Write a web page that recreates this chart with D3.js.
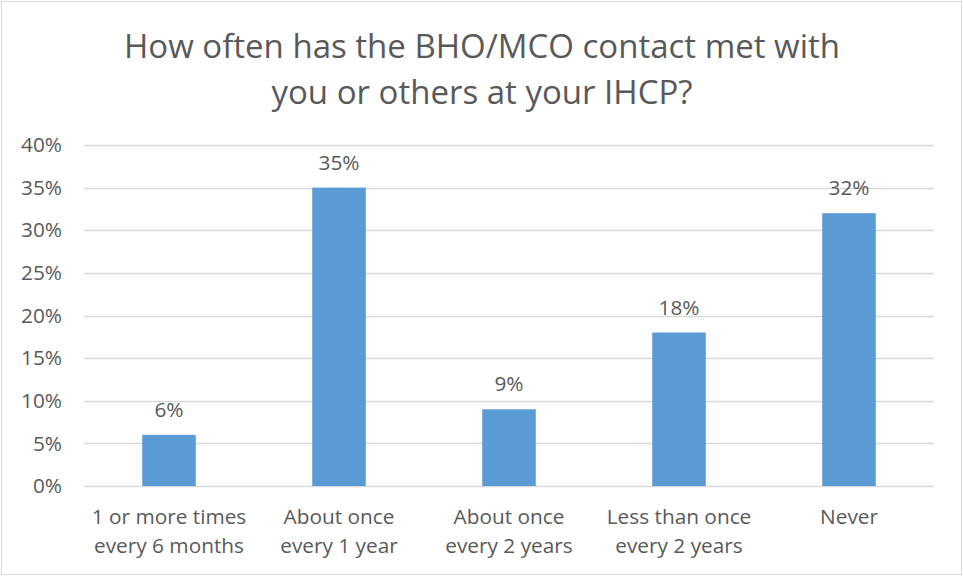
<!DOCTYPE html>
<html><head><meta charset="utf-8">
<script src="https://cdn.jsdelivr.net/npm/d3@7"></script>
<style>body{margin:0;background:#fff}svg{display:block}text{font-family:"Open Sans",Lato,sans-serif;fill:#595959}</style>
</head><body>
<svg id="c" width="963" height="577"></svg>
<script>
const categories = [["1 or more times","every 6 months"],["About once","every 1 year"],["About once","every 2 years"],["Less than once","every 2 years"],["Never"]];
const values = [0.06, 0.35, 0.09, 0.18, 0.32];
const yTicks = [0,0.05,0.10,0.15,0.20,0.25,0.30,0.35,0.40];
const titleLines = ["How often has the BHO/MCO contact met with","you or others at your IHCP?"];

(function(){
const svg = d3.select("#c");
svg.append("rect").attr("x",1.5).attr("y",1.5).attr("width",960).attr("height",573).attr("fill","#fff").attr("stroke","#d9d9d9").attr("stroke-width",1);

const pl=84,pr=934,pt=145,pb=486;
const x = d3.scaleBand().domain(d3.range(values.length)).range([pl,pr]).paddingInner(0.685).paddingOuter(0.3425);
const y = d3.scaleLinear().domain([0,0.40]).range([pb,pt]);
const fs = "20.8px";

const g = svg.append("g");
g.selectAll("line.grid").data(yTicks).join("line")
 .attr("x1",pl).attr("x2",pr).attr("y1",d=>Math.round(y(d))+0.5).attr("y2",d=>Math.round(y(d))+0.5)
 .attr("stroke","#d9d9d9").attr("stroke-width",1.3);

const yAxis = d3.axisLeft(y).tickValues(yTicks).tickFormat(d3.format(".0%")).tickSize(0).tickPadding(22);
const ya = svg.append("g").attr("transform",`translate(${pl},0)`).call(yAxis);
ya.select(".domain").remove();
ya.selectAll("text").style("font-size",fs).attr("fill","#595959").attr("font-family","Open Sans");

g.selectAll("rect.bar").data(values).join("rect")
 .attr("x",(d,i)=>x(i)).attr("width",x.bandwidth())
 .attr("y",d=>y(d)).attr("height",d=>y(0)-y(d)).attr("fill","#5b9bd5");

g.selectAll("text.lbl").data(values).join("text")
 .attr("x",(d,i)=>x(i)+x.bandwidth()/2).attr("y",d=>y(d)-18)
 .attr("text-anchor","middle").style("font-size",fs).text(d=>d3.format(".0%")(d));

const xAxis = d3.axisBottom(x).tickSize(0).tickFormat("");
const xa = svg.append("g").attr("transform",`translate(0,${pb})`).call(xAxis);
xa.select(".domain").remove();
xa.selectAll(".tick").each(function(i){
  const t = d3.select(this).append("text").attr("text-anchor","middle").style("font-size",fs);
  categories[i].forEach((s,k)=>t.append("tspan").attr("x",0).attr("y",38+k*29).text(s));
});

const tt = svg.append("text").attr("text-anchor","middle").style("font-size","33px");
titleLines.forEach((s,k)=>tt.append("tspan").attr("x",482).attr("y",58+k*46).text(s));
})();
</script>
</body></html>
